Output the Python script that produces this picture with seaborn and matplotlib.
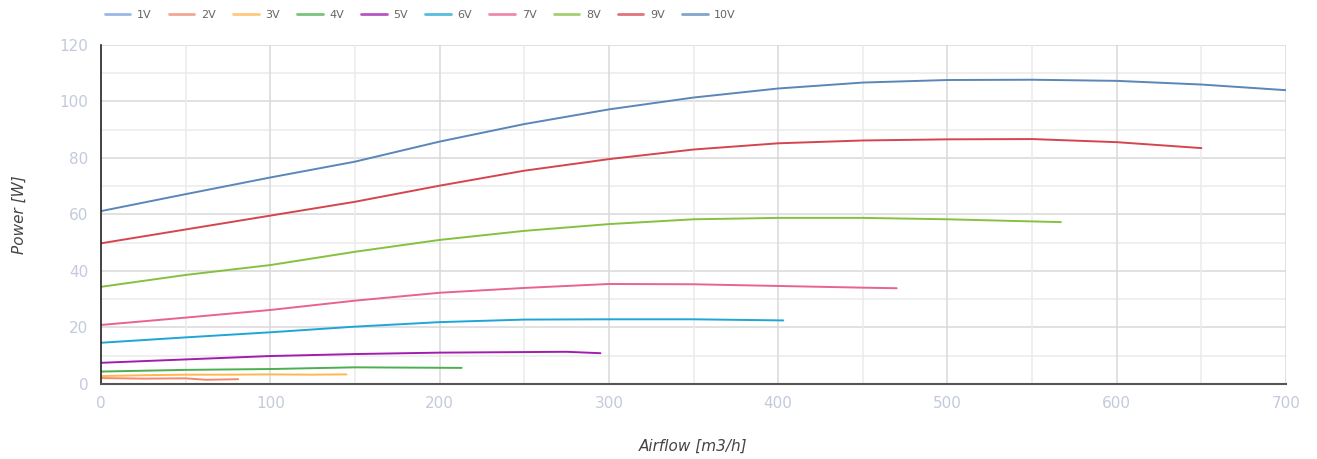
import pandas as pd
import matplotlib.pyplot as plt
import seaborn as sns
from matplotlib.lines import Line2D

# data (airflow m3/h, power W)
series = ['1V', '2V', '3V', '4V', '5V', '6V', '7V', '8V', '9V', '10V']
colors = ['#7b9fdf', '#ef8a6e', '#ffb652', '#4caf50', '#a21caf', '#1ea6d6',
          '#e8638f', '#86c040', '#d5454f', '#5a86b8']

flow_1v = []
pow_1v = []
flow_2v = [0, 25, 50, 62, 81]
pow_2v = [2.1, 1.9, 2.0, 1.5, 1.7]
flow_3v = [0, 25, 50, 75, 100, 125, 145]
pow_3v = [2.8, 3.1, 3.3, 3.3, 3.4, 3.3, 3.4]
flow_4v = [0, 50, 100, 150, 213]
pow_4v = [4.4, 5.0, 5.3, 5.9, 5.7]
flow_5v = [0, 50, 100, 150, 200, 250, 275, 295]
pow_5v = [7.5, 8.7, 9.9, 10.6, 11.1, 11.3, 11.4, 10.9]
flow_6v = [0, 50, 100, 150, 200, 250, 300, 350, 403]
pow_6v = [14.6, 16.5, 18.3, 20.3, 21.9, 22.8, 22.9, 22.9, 22.5]
flow_7v = [0, 50, 100, 150, 200, 250, 300, 350, 400, 450, 470]
pow_7v = [20.9, 23.5, 26.2, 29.5, 32.3, 34.0, 35.4, 35.3, 34.7, 34.1, 33.9]
flow_8v = [0, 50, 100, 150, 200, 250, 300, 350, 400, 450, 500, 567]
pow_8v = [34.4, 38.6, 42.1, 46.8, 51.0, 54.2, 56.6, 58.3, 58.8, 58.8, 58.3, 57.3]
flow_9v = [0, 50, 100, 150, 200, 250, 300, 350, 400, 450, 500, 550, 600, 650]
pow_9v = [49.8, 54.7, 59.6, 64.5, 70.2, 75.5, 79.6, 83.0, 85.2, 86.2, 86.6, 86.7,
          85.6, 83.5]
flow_10v = [0, 50, 100, 150, 200, 250, 300, 350, 400, 450, 500, 550, 600, 650, 700]
pow_10v = [61.2, 67.2, 73.1, 78.7, 85.8, 92.0, 97.2, 101.4, 104.6, 106.7, 107.6,
           107.7, 107.3, 106.0, 104.0]

flows = [flow_1v, flow_2v, flow_3v, flow_4v, flow_5v, flow_6v, flow_7v, flow_8v,
         flow_9v, flow_10v]
powers = [pow_1v, pow_2v, pow_3v, pow_4v, pow_5v, pow_6v, pow_7v, pow_8v,
          pow_9v, pow_10v]

rows = []
for name, fl, pw in zip(series, flows, powers):
    for f, p in zip(fl, pw):
        rows.append({'Voltage': name, 'Airflow': f, 'Power': p})
df = pd.DataFrame(rows)

sns.set_style('white')
plt.rcParams['font.family'] = ['DejaVu Sans']

fig = plt.figure(figsize=(13.17, 4.59), dpi=100)
ax = fig.add_axes([0.0767, 0.1634, 0.8998, 0.7386])

present = [s for s in series if s in df['Voltage'].unique()]
pal = {s: c for s, c in zip(series, colors)}
sns.lineplot(data=df, x='Airflow', y='Power', hue='Voltage', hue_order=present,
             palette=pal, sort=False, estimator=None, linewidth=1.4, ax=ax,
             legend=False)

ax.set_xlim(0, 700)
ax.set_ylim(0, 120)

# grid: minor every 10 / 50, a bit darker on the labelled ticks
for yv in range(10, 121, 10):
    ax.axhline(yv, color='#d9d9d9' if yv % 20 == 0 else '#ebebeb', lw=1.1, zorder=0)
for xv in range(50, 701, 50):
    ax.axvline(xv, color='#d9d9d9' if xv % 100 == 0 else '#ebebeb', lw=1.1, zorder=0)

for s in ['top', 'right']:
    ax.spines[s].set_visible(False)
ax.spines['left'].set_color('#222222')
ax.spines['left'].set_linewidth(1.2)
ax.spines['bottom'].set_color('#555555')
ax.spines['bottom'].set_linewidth(1.5)

ax.set_xticks(range(0, 701, 100))
ax.set_yticks(range(0, 121, 20))
ax.tick_params(axis='both', length=0, labelsize=11, colors='#c3cadb', pad=9)

ax.set_xlabel('Airflow [m3/h]', fontsize=11, style='italic', color='#444444',
              labelpad=20)
ax.set_ylabel('Power [W]', fontsize=11, style='italic', color='#444444',
              labelpad=24)

handles = [Line2D([0], [0], color=c, lw=2, alpha=0.75) for c in colors]
fig.legend(handles, series, loc='upper left', bbox_to_anchor=(0.072, 1.0),
           ncol=10, frameon=False, fontsize=8, handlelength=2.3,
           columnspacing=1.55, handletextpad=0.6, labelcolor='#666666')

fig.savefig('out.png', dpi=100)
